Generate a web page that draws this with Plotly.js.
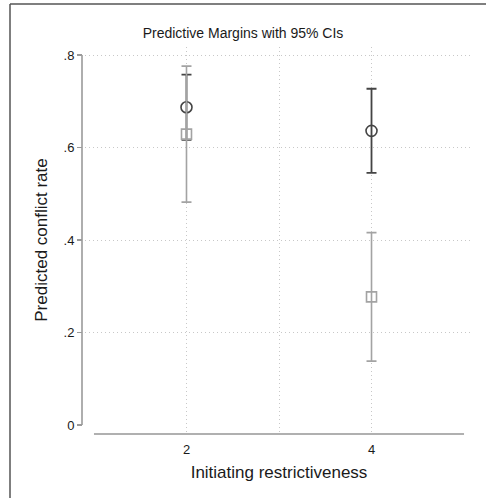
<!DOCTYPE html>
<html><head><meta charset="utf-8">
<script src="https://cdn.plot.ly/plotly-3.0.1.min.js"></script>
<style>html,body{margin:0;padding:0;background:#fff;}#chart{width:486px;height:498px;}</style>
</head><body><div id="chart"></div>
<script>
// Data
const xLevels = [2, 4];
const circleMargins = [0.687, 0.636];
const circleCI = [0.0705, 0.091];
const squareMargins = [0.629, 0.277];
const squareCI = [0.147, 0.139];
const yTickVals = [0, 0.2, 0.4, 0.6, 0.8];
const yTickText = ['0', '.2', '.4', '.6', '.8'];
const yGridVals = [0.2, 0.4, 0.6, 0.8];
const xTickVals = [2, 3, 4];
const xTickText = ['2', '', '4'];

const W = 486, H = 498;
const fontFam = 'Liberation Sans, Arial, sans-serif';
const dark = '#444444', light = '#a3a3a3';
const gridDash = '1px,3px';

const traces = [
  {x: [], y: [], xaxis: 'x', yaxis: 'y2', type: 'scatter', showlegend: false, hoverinfo: 'skip'},
  {
    x: xLevels, y: circleMargins, type: 'scatter', mode: 'markers',
    marker: {symbol: 'circle-open', size: 11, color: dark, line: {width: 1.6, color: dark}},
    error_y: {type: 'data', array: circleCI, visible: true, color: dark, thickness: 1.8, width: 5},
    showlegend: false, hoverinfo: 'skip'
  },
  {
    x: xLevels, y: squareMargins, type: 'scatter', mode: 'markers',
    marker: {symbol: 'square-open', size: 10, color: light, line: {width: 1.6, color: light}},
    error_y: {type: 'data', array: squareCI, visible: true, color: light, thickness: 1.6, width: 5},
    showlegend: false, hoverinfo: 'skip'
  }
];

const yAxPos = 82 / W;
const xAxPos = (H - 434) / H;
const yDom = [(H - 433) / H, (H - 47) / H];
const xDom = [85 / W, 473 / W];
const yRange = [-0.0173, 0.8173];
const xRange = [0.903, 5.097];

const layout = {
  width: W, height: H,
  margin: {l: 0, r: 0, t: 0, b: 0},
  paper_bgcolor: '#fff', plot_bgcolor: 'rgba(0,0,0,0)',
  font: {family: fontFam, color: '#1a1a1a'},
  title: {text: 'Predictive Margins with 95% CIs', font: {size: 14, color: '#1a1a1a', family: fontFam},
          x: 0.5, xanchor: 'center', y: 1 - 33 / H, yanchor: 'middle', xref: 'paper', yref: 'container'},
  xaxis: {
    domain: xDom, range: xRange, anchor: 'free', position: xAxPos,
    tickvals: xTickVals, ticktext: xTickText, ticks: '', ticklabelstandoff: 6,
    showline: false, zeroline: false,
    showgrid: true, gridcolor: '#c8c8c8', griddash: gridDash, gridwidth: 1,
    tickfont: {size: 13, color: '#1a1a1a'},
    title: {text: 'Initiating restrictiveness', font: {size: 17, color: '#1a1a1a'}, standoff: 10}
  },
  yaxis: {
    domain: yDom, range: yRange, anchor: 'free', position: yAxPos,
    tickvals: yTickVals, ticktext: yTickText, ticks: 'outside', ticklen: 5, tickwidth: 1.5, tickcolor: '#9a9a9a',
    showline: false, zeroline: false, showgrid: false,
    tickfont: {size: 13, color: '#1a1a1a'},
    title: {text: 'Predicted conflict rate', font: {size: 17, color: '#1a1a1a'}, standoff: 10}
  },
  yaxis2: {
    domain: yDom, range: yRange, overlaying: 'y', anchor: 'x',
    tickvals: yGridVals, showticklabels: false, ticks: '', showline: false, zeroline: false,
    showgrid: true, gridcolor: '#c8c8c8', griddash: gridDash, gridwidth: 1
  },
  shapes: [
    {type: 'line', xref: 'paper', yref: 'y', x0: yAxPos, x1: yAxPos, y0: 0, y1: 0.8,
     line: {color: '#9a9a9a', width: 1.6}},
    {type: 'line', xref: 'x', yref: 'paper', x0: 1, x1: 5, y0: xAxPos, y1: xAxPos,
     line: {color: '#b0b0b0', width: 2}},
    {type: 'line', xref: 'paper', yref: 'paper', x0: 10 / W, x1: 10 / W, y0: 0, y1: 1 - 4 / H,
     line: {color: '#555', width: 1.5}},
    {type: 'line', xref: 'paper', yref: 'paper', x0: 10 / W, x1: 1, y0: 1 - 4 / H, y1: 1 - 4 / H,
     line: {color: '#555', width: 1.5}}
  ]
};

Plotly.newPlot('chart', traces, layout, {displayModeBar: false, staticPlot: true});
</script>
</body></html>
